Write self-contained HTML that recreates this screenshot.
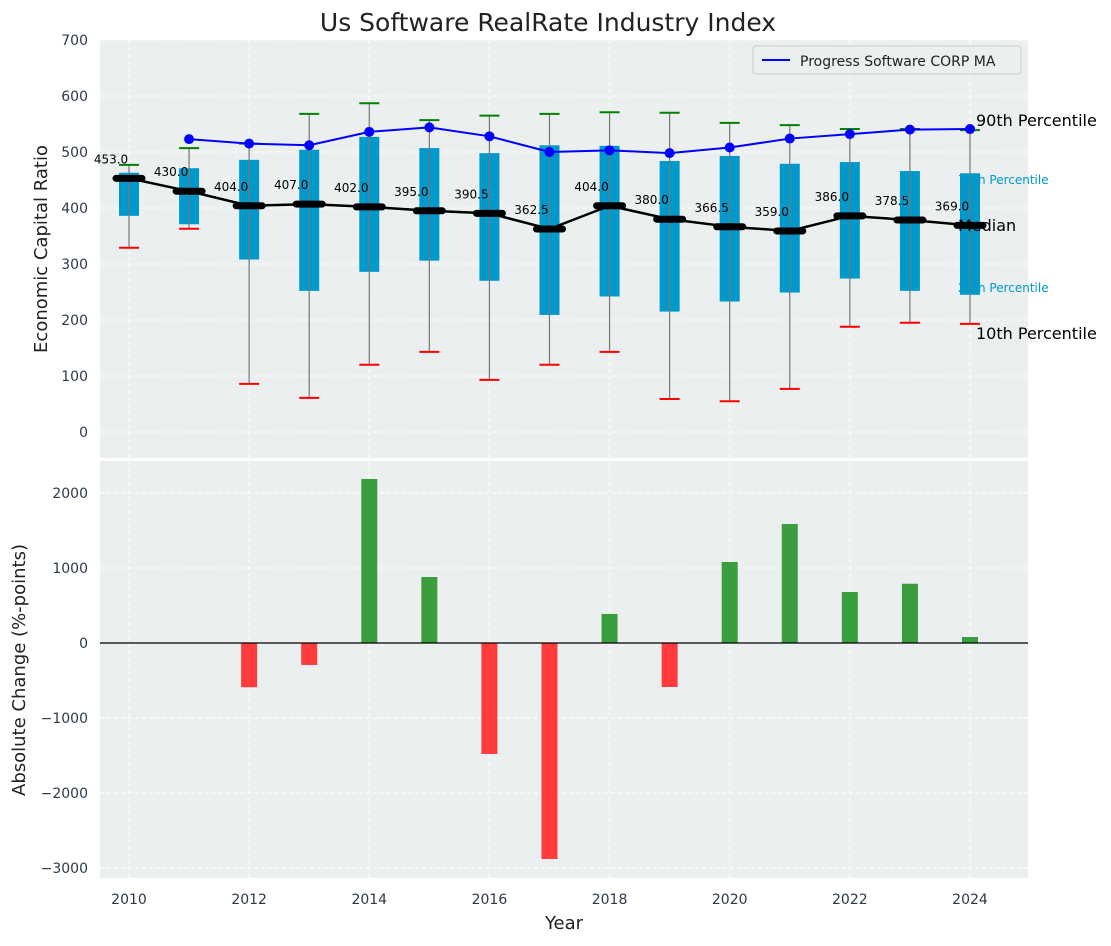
<!DOCTYPE html>
<html><head><meta charset="utf-8"><style>
body{margin:0;background:#fff;font-family:"DejaVu Sans","Liberation Sans",sans-serif}
</style></head><body>
<svg id="c" width="1111" height="942" xmlns="http://www.w3.org/2000/svg" font-family="DejaVu Sans, Liberation Sans, sans-serif">
<text x="548" y="31" font-size="25" text-anchor="middle" fill="#222">Us Software RealRate Industry Index</text>
<rect x="100" y="40" width="928" height="418" fill="#ebeff0"/>
<rect x="100" y="461" width="928" height="417" fill="#ebeff0"/>
<g id="gtop"></g><g id="gbot"></g>
<text transform="translate(47,249) rotate(-90)" font-size="18" text-anchor="middle" fill="#222">Economic Capital Ratio</text>
<text transform="translate(25,670) rotate(-90)" font-size="18" text-anchor="middle" fill="#222">Absolute Change (%-points)</text>
<text x="564" y="929" font-size="18" text-anchor="middle" fill="#222">Year</text>
<g>
<rect x="753" y="46" width="268" height="28" fill="#ebeff0" stroke="#ccc" rx="3"/>
<line x1="762" y1="60" x2="790" y2="60" stroke="#0000ff" stroke-width="2"/>
<text x="800" y="66" font-size="14" fill="#222">Progress Software CORP MA</text>
</g>
<text x="976" y="126" font-size="16" fill="#000">90th Percentile</text>
<text x="958" y="184" font-size="12" fill="#0099cc">75th Percentile</text>
<text x="958" y="231" font-size="16" fill="#000">Median</text>
<text x="958" y="292" font-size="12" fill="#0099cc">25th Percentile</text>
<text x="976" y="339" font-size="16" fill="#000">10th Percentile</text>
</svg>
<script>
const years=[2010,2011,2012,2013,2014,2015,2016,2017,2018,2019,2020,2021,2022,2023,2024];
const q1=[386,371,308,252,286,306,270,209,242,215,233,249,274,252,245];
const q3=[463,471,486,504,527,507,498,512,511,484,493,479,482,466,462];
const p10=[329,363,86,61,120,143,93,120,143,59,55,77,188,195,193];
const p90=[477,507,515,568,587,557,565,568,571,570,552,548,541,541,539];
const medians=[453,430,404,407,402,395,390.5,362.5,404,380,366.5,359,386,378.5,369];
const maYears=[2011,2012,2013,2014,2015,2016,2017,2018,2019,2020,2021,2022,2023,2024];
const maValues=[523,515,512,536,544,528,500,503,498,508,524,532,540,541];
const changes=[0,0,-590,-293,2187,880,-1480,-2880,387,-587,1080,1587,680,790,80];
const topTicks=[0,100,200,300,400,500,600,700];
const botTicks=[-3000,-2000,-1000,0,1000,2000];
const xTicks=[2010,2012,2014,2016,2018,2020,2022,2024];
const X=y=>129+(y-2010)*60.07;
const YT=v=>432-0.56*v;
const YB=v=>643-0.075*v;
const NS='http://www.w3.org/2000/svg';
const gTop=document.getElementById('gtop'),gBot=document.getElementById('gbot');
function mk(p,t,a){const e=document.createElementNS(NS,t);for(const k in a)e.setAttribute(k,a[k]);p.appendChild(e);return e;}
topTicks.forEach(t=>{
 mk(gTop,'line',{x1:100,x2:1028,y1:YT(t),y2:YT(t),stroke:'#fff','stroke-dasharray':'4,3'});
 const e=mk(gTop,'text',{x:88,y:YT(t)+5,'font-size':14,'text-anchor':'end',fill:'#2b3a4a'});e.textContent=t;
 
 
});
botTicks.forEach(t=>{
 mk(gBot,'line',{x1:100,x2:1028,y1:YB(t),y2:YB(t),stroke:'#fff','stroke-dasharray':'4,3'});
 const e=mk(gBot,'text',{x:88,y:YB(t)+5,'font-size':14,'text-anchor':'end',fill:'#2b3a4a'});e.textContent=t<0?'\u2212'+(-t):t;
 
 
});
xTicks.forEach(t=>{
 mk(gTop,'line',{x1:X(t),x2:X(t),y1:40,y2:458,stroke:'#fff','stroke-dasharray':'4,3'});
 mk(gBot,'line',{x1:X(t),x2:X(t),y1:461,y2:878,stroke:'#fff','stroke-dasharray':'4,3'});
 const e=mk(gBot,'text',{x:X(t),y:904,'font-size':14,'text-anchor':'middle',fill:'#2b3a4a'});e.textContent=t;
 
 
});
years.forEach((y,i)=>{
 const x=X(y);
 const b=mk(gTop,'rect',{x:x-10,y:YT(q3[i]),width:20,height:YT(q1[i])-YT(q3[i]),fill:'#0099cc'});
 
 
 mk(gTop,'line',{x1:x,x2:x,y1:YT(p90[i]),y2:YT(p10[i]),stroke:'#777','stroke-width':1.2});
 mk(gTop,'line',{x1:x-10,x2:x+10,y1:YT(p90[i]),y2:YT(p90[i]),stroke:'green','stroke-width':2});
 mk(gTop,'line',{x1:x-10,x2:x+10,y1:YT(p10[i]),y2:YT(p10[i]),stroke:'red','stroke-width':2});
});
mk(gTop,'polyline',{points:years.map((y,i)=>X(y)+','+YT(medians[i])).join(' '),fill:'none',stroke:'#000','stroke-width':2.5});
years.forEach((y,i)=>{
 const m=mk(gTop,'line',{x1:X(y)-13,x2:X(y)+13,y1:YT(medians[i]),y2:YT(medians[i]),stroke:'#000','stroke-width':7,'stroke-linecap':'round'});
 
 
 const t=mk(gTop,'text',{x:X(y)-18,y:YT(medians[i])-15,'font-size':12,'text-anchor':'middle',fill:'#000'});t.textContent=medians[i].toFixed(1);
 
 
});
mk(gTop,'polyline',{points:maYears.map((y,i)=>X(y)+','+YT(maValues[i])).join(' '),fill:'none',stroke:'#0000ff','stroke-width':2});
maYears.forEach((y,i)=>{
 const c=mk(gTop,'circle',{cx:X(y),cy:YT(maValues[i]),r:5,fill:'#0000ff'});
 
 
});
years.forEach((y,i)=>{
 const v=changes[i];if(v===0)return;
 const r=mk(gBot,'rect',{x:X(y)-8,y:Math.min(YB(v),YB(0)),width:16,height:Math.abs(YB(v)-YB(0)),fill:v>0?'#3a9e3f':'#ff3b3b'});
 
 
});
mk(gBot,'line',{x1:100,x2:1028,y1:YB(0),y2:YB(0),stroke:'#000','stroke-width':1.2});
</script>
</body></html>
